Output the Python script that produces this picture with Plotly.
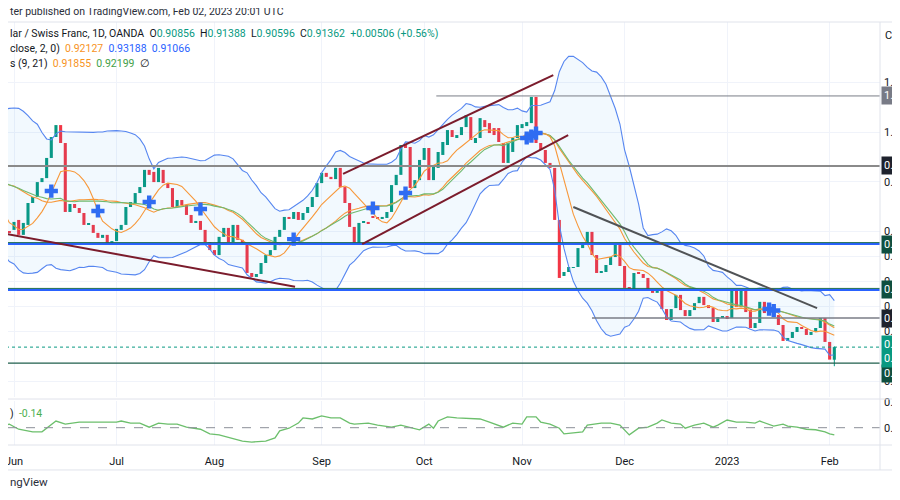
import numpy as np
import pandas as pd
import plotly.graph_objects as go

# ---------------- data ----------------
# daily weekday bars; Apr 29 - May 30 are warm-up bars for the indicators (left of the view)
dates = pd.bdate_range("2022-04-29", "2023-02-02")

opens = [
    # Apr 29 - May 31
    0.9720, 0.9740, 0.9775, 0.9760, 0.9720, 0.9830, 0.9885, 0.9915, 0.9930, 0.9905, 1.0005, 1.0010,
    0.9995, 0.9930, 0.9900, 0.9745, 0.9730, 0.9625, 0.9610, 0.9630, 0.9600, 0.9590, 0.9600,
    # Jun
    0.9607, 0.9647, 0.9587, 0.9627, 0.9715, 0.9739, 0.9799, 0.9815, 0.9896, 0.9980, 1.0028, 0.9956,
    0.9679, 0.9711, 0.9695, 0.9675, 0.9627, 0.9627, 0.9595, 0.9575, 0.9587, 0.9554,
    # Jul
    0.9562, 0.9607, 0.9627, 0.9699, 0.9715, 0.9755, 0.9779, 0.9848, 0.9840, 0.9799, 0.9848, 0.9795,
    0.9775, 0.9699, 0.9727, 0.9707, 0.9667, 0.9635, 0.9643, 0.9607, 0.9558,
    # Aug
    0.9526, 0.9506, 0.9579, 0.9615, 0.9558, 0.9627, 0.9567, 0.9550, 0.9434, 0.9418, 0.9430, 0.9474,
    0.9506, 0.9526, 0.9579, 0.9607, 0.9659, 0.9651, 0.9679, 0.9647, 0.9675, 0.9699, 0.9739,
    # Sep
    0.9795, 0.9836, 0.9820, 0.9811, 0.9856, 0.9779, 0.9715, 0.9619, 0.9550, 0.9635, 0.9639, 0.9659,
    0.9655, 0.9651, 0.9655, 0.9679, 0.9787, 0.9828, 0.9948, 0.9940, 0.9775, 0.9807,
    # Oct
    0.9888, 0.9936, 0.9807, 0.9856, 0.9908, 0.9948, 1.0008, 0.9980, 0.9988, 1.0020, 1.0060, 0.9956,
    0.9976, 1.0048, 1.0036, 1.0016, 1.0016, 0.9956, 0.9876, 0.9920, 0.9976,
    # Nov
    1.0016, 1.0024, 1.0036, 1.0141, 0.9956, 0.9928, 0.9876, 0.9856, 0.9647, 0.9422, 0.9438, 0.9454,
    0.9458, 0.9534, 0.9554, 0.9599, 0.9506, 0.9434, 0.9438, 0.9466, 0.9498, 0.9550,
    # Dec
    0.9462, 0.9374, 0.9370, 0.9434, 0.9430, 0.9414, 0.9366, 0.9354, 0.9370, 0.9289, 0.9245, 0.9293,
    0.9346, 0.9285, 0.9261, 0.9285, 0.9313, 0.9338, 0.9305, 0.9293, 0.9237, 0.9257,
    # Jan
    0.9261, 0.9253, 0.9366, 0.9297, 0.9366, 0.9285, 0.9213, 0.9233, 0.9318, 0.9273, 0.9285, 0.9265,
    0.9225, 0.9161, 0.9173, 0.9197, 0.9217, 0.9209, 0.9185, 0.9197, 0.9213, 0.9253,
    # Feb
    0.9157, 0.90856,
]
closes = [
    0.9740, 0.9775, 0.9760, 0.9720, 0.9830, 0.9885, 0.9915, 0.9930, 0.9905, 1.0005, 1.0010, 0.9995,
    0.9930, 0.9900, 0.9745, 0.9730, 0.9625, 0.9610, 0.9630, 0.9600, 0.9590, 0.9600, 0.9595,
    0.9639, 0.9587, 0.9635, 0.9715, 0.9739, 0.9799, 0.9815, 0.9896, 0.9980, 1.0028, 0.9956, 0.9679,
    0.9711, 0.9695, 0.9675, 0.9627, 0.9631, 0.9595, 0.9575, 0.9587, 0.9554, 0.9562,
    0.9611, 0.9627, 0.9699, 0.9719, 0.9755, 0.9779, 0.9848, 0.9828, 0.9799, 0.9856, 0.9795, 0.9775,
    0.9699, 0.9727, 0.9707, 0.9667, 0.9635, 0.9643, 0.9607, 0.9558, 0.9526,
    0.9506, 0.9579, 0.9615, 0.9558, 0.9627, 0.9567, 0.9550, 0.9434, 0.9418, 0.9430, 0.9474, 0.9506,
    0.9526, 0.9579, 0.9607, 0.9659, 0.9651, 0.9679, 0.9647, 0.9675, 0.9699, 0.9739, 0.9795,
    0.9836, 0.9820, 0.9811, 0.9856, 0.9779, 0.9715, 0.9619, 0.9550, 0.9635, 0.9639, 0.9631, 0.9655,
    0.9651, 0.9659, 0.9679, 0.9787, 0.9828, 0.9948, 0.9936, 0.9775, 0.9807, 0.9888,
    0.9936, 0.9807, 0.9860, 0.9920, 0.9960, 1.0008, 0.9980, 0.9988, 1.0020, 1.0068, 0.9968, 0.9976,
    1.0056, 1.0020, 0.9996, 0.9988, 0.9960, 0.9876, 0.9956, 0.9976, 1.0028,
    1.0032, 1.0040, 1.0141, 0.9956, 0.9928, 0.9876, 0.9856, 0.9647, 0.9414, 0.9438, 0.9458, 0.9458,
    0.9534, 0.9554, 0.9599, 0.9506, 0.9434, 0.9438, 0.9466, 0.9498, 0.9550, 0.9462,
    0.9374, 0.9370, 0.9434, 0.9430, 0.9414, 0.9366, 0.9354, 0.9370, 0.9289, 0.9245, 0.9289, 0.9346,
    0.9285, 0.9261, 0.9285, 0.9313, 0.9338, 0.9305, 0.9293, 0.9237, 0.9257, 0.9261,
    0.9253, 0.9366, 0.9297, 0.9366, 0.9277, 0.9213, 0.9233, 0.9318, 0.9273, 0.9285, 0.9265, 0.9225,
    0.9161, 0.9173, 0.9197, 0.9217, 0.9209, 0.9185, 0.9197, 0.9213, 0.9253, 0.9157,
    0.9086, 0.91362,
]
last_high = 0.91388
last_low = 0.90596

month_labels = ["Jun", "Jul", "Aug", "Sep", "Oct", "Nov", "Dec", "2023", "Feb"]
price_ticks = [0.90, 0.92, 0.93, 0.94, 0.95, 0.96, 0.98, 1.00, 1.02]
osc_ticks = [0.0, 0.5]
osc_tick_labels = ["0.00", "0.50"]

# MA-cross markers: bar number counted from 2022-06-01, price
cross_bar = [8, 18, 29, 40, 60, 77, 84, 110, 111, 112, 162, 163]
cross_price = [0.9763, 0.9683, 0.9719, 0.9691, 0.9570, 0.9695, 0.9755, 0.9976, 0.9984, 0.9996, 0.9289, 0.9283]

# lower-pane oscillator (bar number, value)
osc_bar = [-3, -1, 1, 4, 6, 9, 11, 14, 17, 22, 23, 25, 27, 29, 31, 33, 35, 37, 40, 42, 44, 47, 49, 51,
           54, 56, 57, 59, 61, 62, 64, 66, 68, 70, 72, 73, 76, 78, 81, 83, 85, 87, 89, 90, 91, 93, 95,
           98, 100, 102, 105, 107, 109, 110, 112, 113, 115, 117, 118, 120, 122, 123, 126, 128, 130, 132,
           134, 136, 138, 139, 141, 143, 144, 146, 148, 150, 151, 153, 155, 157, 159, 160, 163, 165, 166,
           168, 170, 172, 174, 175, 176]
osc_val = [0.02, 0.07, -0.03, -0.08, -0.08, 0.13, 0.07, 0.11, 0.11, 0.11, 0.13, 0.09, 0.09, 0.01, 0.09,
           0.07, 0.07, 0.01, -0.03, -0.12, -0.14, -0.22, -0.26, -0.28, -0.26, -0.20, -0.06, -0.01, 0.09,
           0.19, 0.17, 0.23, 0.19, 0.19, 0.09, 0.07, 0.09, 0.05, 0.01, 0.05, 0.01, -0.04, 0.07, -0.01,
           0.13, 0.21, 0.19, 0.17, 0.17, 0.11, 0.01, 0.09, 0.07, 0.21, 0.21, 0.11, 0.07, -0.01, -0.12,
           -0.10, -0.08, 0.05, 0.09, 0.09, 0.05, -0.14, -0.01, 0.01, 0.09, 0.15, 0.09, 0.07, -0.01, 0.05,
           0.09, 0.01, 0.05, 0.15, 0.11, 0.11, 0.09, 0.13, 0.03, 0.07, 0.03, 0.01, -0.03, -0.04, -0.08,
           -0.12, -0.14]

# drawn trend lines: (bar0, price0, bar1, price1, colour)
trend_bar0 = [-3.0, 70.6, 74.7, 120.0]
trend_p0 = [0.9595, 0.9832, 0.9550, 0.9699]
trend_bar1 = [60.3, 115.7, 118.9, 172.3]
trend_p1 = [0.9379, 1.0229, 0.9988, 0.9293]
trend_col = ["#7b1c2c", "#7b1c2c", "#7b1c2c", "#505356"]

# horizontal levels (start bar, price)
lvl_start = [90.6, -3.0, -3.0, -3.0, 124.0, -3.0]
lvl_price = [1.0145, 0.9864, 0.9550, 0.9366, 0.9253, 0.9072]

# ---------------- derived ----------------
n = len(dates)
bar = np.arange(n) - int(np.where(dates == pd.Timestamp("2022-06-01"))[0][0])
o = np.array(opens)
c = np.array(closes)
cs = pd.Series(c)
basis = cs.rolling(20).mean()
sd = cs.rolling(20).std(ddof=0)
upper = basis + 2 * sd
lower = basis - 2 * sd
ma9 = cs.rolling(9).mean()
ma21 = cs.rolling(21).mean()

bser = pd.Series(bar, index=dates)
firsts = bser.groupby([dates.year, dates.month]).first()
month_ticks = [int(v) for v in firsts.values if v >= 0]

XMIN, XMAX = -1.29, 185.8
YMIN, YMAX = 0.89359, 1.0442

GREEN = "#089981"
RED = "#f23645"
BLUE = "#2962ff"
BBLUE = "#5686f0"
ORANGE = "#f7983a"
MAGREEN = "#6fb96f"

fig = go.Figure()

vis = bar >= -8
fig.add_trace(go.Scatter(x=bar[vis], y=upper[vis], mode="lines", line=dict(color=BBLUE, width=1.1),
                         hoverinfo="skip", showlegend=False))
fig.add_trace(go.Scatter(x=bar[vis], y=lower[vis], mode="lines", line=dict(color=BBLUE, width=1.1),
                         fill="tonexty", fillcolor="rgba(33,150,243,0.06)", hoverinfo="skip",
                         showlegend=False))
fig.add_trace(go.Scatter(x=bar[vis], y=basis[vis], mode="lines", line=dict(color=ORANGE, width=1.1),
                         showlegend=False))
fig.add_trace(go.Scatter(x=bar[vis], y=ma21[vis], mode="lines", line=dict(color=MAGREEN, width=1.1),
                         showlegend=False))
fig.add_trace(go.Scatter(x=bar[vis], y=ma9[vis], mode="lines", line=dict(color=ORANGE, width=1.1),
                         showlegend=False))

up = c >= o
base = np.minimum(o, c)
height = np.maximum(np.abs(c - o), 0.0004)
fig.add_trace(go.Scatter(x=[bar[-1], bar[-1]], y=[last_low, last_high], mode="lines",
                         line=dict(color=GREEN, width=1), showlegend=False))
fig.add_trace(go.Bar(x=bar[up], y=height[up], base=base[up], width=0.66, marker_color=GREEN,
                     marker_line_width=0, showlegend=False))
fig.add_trace(go.Bar(x=bar[~up], y=height[~up], base=base[~up], width=0.66, marker_color=RED,
                     marker_line_width=0, showlegend=False))

fig.add_trace(go.Scatter(x=cross_bar, y=cross_price, mode="markers",
                         marker=dict(symbol="cross", size=11, color="#2f6cf2", line=dict(width=0)),
                         showlegend=False))

fig.add_trace(go.Scatter(x=osc_bar, y=osc_val, mode="lines", line=dict(color="#6cbf6c", width=1.3),
                         xaxis="x2", yaxis="y2", showlegend=False))

shapes = []
lvl_styles = [
    dict(color="#7a7d86", width=1),
    dict(color="#8a8a8a", width=2),
    dict(color=BLUE, width=2),
    dict(color=BLUE, width=2),
    dict(color="#7a7d86", width=1.5),
    dict(color="#1f5f4c", width=1.2),
]
for s, p, st in zip(lvl_start, lvl_price, lvl_styles):
    shapes.append(dict(type="line", xref="x", yref="y", x0=s, x1=XMAX, y0=p, y1=p, line=st))
for p in (lvl_price[2], lvl_price[3]):
    shapes.append(dict(type="line", xref="x", yref="y", x0=-3.0, x1=XMAX, y0=p + 0.0006, y1=p + 0.0006,
                       line=dict(color="#1c6b50", width=1)))
shapes.append(dict(type="line", xref="x", yref="y", x0=-3.0, x1=XMAX, y0=c[-1], y1=c[-1],
                   line=dict(color=GREEN, width=1, dash="dot")))
for b0, p0, b1, p1, col in zip(trend_bar0, trend_p0, trend_bar1, trend_p1, trend_col):
    shapes.append(dict(type="line", xref="x", yref="y", x0=b0, y0=p0, x1=b1, y1=p1,
                       line=dict(color=col, width=2)))
shapes.append(dict(type="line", xref="paper", yref="y2", x0=0, x1=1, y0=0, y1=0,
                   line=dict(color="#8c8f98", width=1, dash="dash")))
for yy in (1.0, 0.1087, 0.0, -0.059):
    shapes.append(dict(type="line", xref="paper", yref="paper", x0=0, x1=1.03, y0=yy, y1=yy,
                       line=dict(color="#e0e3eb", width=1)))
shapes.append(dict(type="line", xref="paper", yref="paper", x0=1, x1=1, y0=-0.059, y1=1,
                   line=dict(color="#e0e3eb", width=1)))

H = 423.0


def py(ypx):
    return (445.0 - ypx) / H


ann = []
FONT = "Roboto, Arial, sans-serif"
LF = 10.5
ann.append(dict(xref="paper", yref="paper", x=0, y=py(12), xanchor="left", yanchor="middle",
                text="ter published on TradingView.com, Feb 02, 2023 20:01 UTC", showarrow=False,
                font=dict(size=LF, color="#2a2e39", family=FONT)))
g = "color:#089981"
ann.append(dict(xref="paper", yref="paper", x=0, y=py(33), xanchor="left", yanchor="middle", showarrow=False,
                font=dict(size=LF, color="#131722", family=FONT),
                text=("lar / Swiss Franc, 1D, OANDA&nbsp; O<span style='%s'>0.90856</span>&nbsp; "
                      "H<span style='%s'>0.91388</span>&nbsp; L<span style='%s'>0.90596</span>&nbsp; "
                      "C<span style='%s'>0.91362</span>&nbsp; <span style='%s'>+0.00506 (+0.56%%)</span>")
                % (g, g, g, g, g)))
ann.append(dict(xref="paper", yref="paper", x=0, y=py(49), xanchor="left", yanchor="middle", showarrow=False,
                font=dict(size=LF, color="#131722", family=FONT),
                text=("close, 2, 0)&nbsp; <span style='color:#f7931e'>0.92127</span>&nbsp; "
                      "<span style='color:#2962ff'>0.93188</span>&nbsp; "
                      "<span style='color:#2962ff'>0.91066</span>")))
ann.append(dict(xref="paper", yref="paper", x=0, y=py(63), xanchor="left", yanchor="middle", showarrow=False,
                font=dict(size=LF, color="#131722", family=FONT),
                text=("s (9, 21)&nbsp; <span style='color:#f7931e'>0.91855</span>&nbsp; "
                      "<span style='color:#43a047'>0.92199</span>&nbsp; ∅")))
ann.append(dict(xref="paper", yref="paper", x=0, y=py(413), xanchor="left", yanchor="middle", showarrow=False,
                font=dict(size=LF, color="#131722", family=FONT),
                text=")&nbsp; <span style='color:#4caf50'>-0.14</span>"))
ann.append(dict(xref="paper", yref="paper", x=0, y=py(482), xanchor="left", yanchor="middle", showarrow=False,
                font=dict(size=11.5, color="#2a2e39", family=FONT), text="ngView"))
ann.append(dict(xref="paper", yref="paper", x=1, xshift=3, y=py(35), xanchor="left", yanchor="middle",
                showarrow=False, font=dict(size=11, color="#131722", family=FONT), text="CHF"))

lbl_bg = ["#787b86", "#1e222d", "#0f4f3f", "#0f4f3f", "#1e222d", "#0f4f3f"]
lbl_shift = [0, 0, 0, 0, 0, -10]
for p, bg, sh in zip(lvl_price, lbl_bg, lbl_shift):
    ann.append(dict(xref="paper", yref="y", x=1, xshift=1, y=p, yshift=sh, xanchor="left", yanchor="middle",
                    showarrow=False, text="%.5f" % p, bgcolor=bg, borderpad=2,
                    font=dict(size=11, color="white", family=FONT)))
ann.append(dict(xref="paper", yref="y", x=1, xshift=1, y=c[-1], yshift=-4, xanchor="left", yanchor="middle",
                showarrow=False, text="%.5f<br>%.5f" % (c[-1], c[-1]), bgcolor=GREEN, borderpad=2,
                font=dict(size=11, color="white", family=FONT)))

fig.update_layout(
    template="none",
    width=892, height=480,
    margin=dict(l=0, r=20, t=14, b=43),
    paper_bgcolor="white", plot_bgcolor="white",
    font=dict(family=FONT, size=11, color="#131722"),
    barmode="overlay",
    showlegend=False,
    shapes=shapes,
    annotations=ann,
    xaxis=dict(domain=[0, 1], anchor="y", range=[XMIN, XMAX], tickvals=month_ticks, showticklabels=False,
               showgrid=True, gridcolor="#f0f3fa", zeroline=False, showline=False, ticks="", automargin=False),
    yaxis=dict(domain=[0.1135, 1], anchor="x", range=[YMIN, YMAX], side="right", tickvals=price_ticks,
               ticktext=["%.5f" % v for v in price_ticks], showgrid=True, gridcolor="#f0f3fa", zeroline=False,
               showline=False, ticks="", ticklabelstandoff=3, automargin=False,
               tickfont=dict(size=11, color="#131722")),
    xaxis2=dict(domain=[0, 1], anchor="y2", matches="x", range=[XMIN, XMAX], tickvals=month_ticks,
                ticktext=month_labels, showgrid=True, gridcolor="#f0f3fa", zeroline=False, showline=False,
                ticks="", ticklabelstandoff=8, automargin=False, ticklabeloverflow="allow",
                tickfont=dict(size=11, color="#131722")),
    yaxis2=dict(domain=[0, 0.104], anchor="x2", range=[-0.337, 0.52], side="right", tickvals=osc_ticks,
                ticktext=osc_tick_labels, showgrid=False, zeroline=False, showline=False, ticks="",
                ticklabelstandoff=3, automargin=False, tickfont=dict(size=11, color="#131722")),
)

fig.write_html("out.html")
